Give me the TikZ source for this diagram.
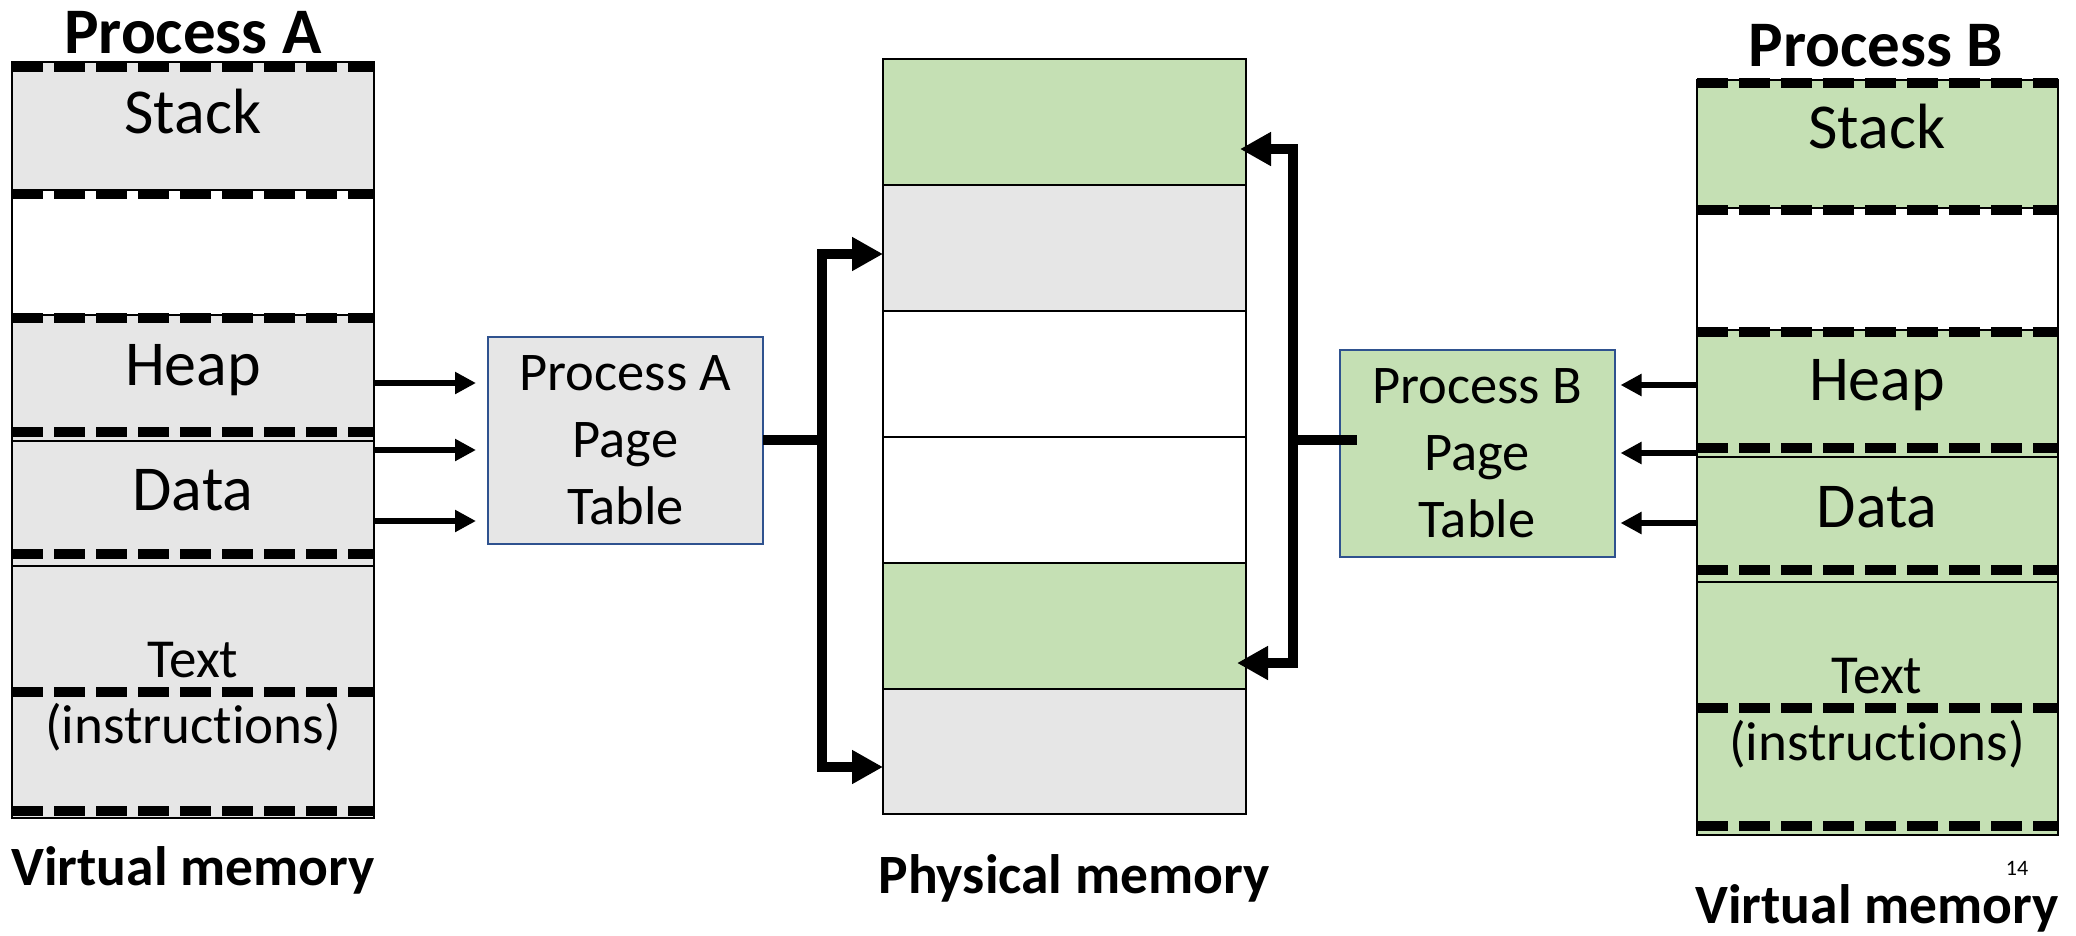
\documentclass[tikz,border=0pt]{standalone}
\usepackage{fontspec}
\setmainfont{Carlito}[Ligatures=NoCommon]
\usetikzlibrary{arrows.meta}
\definecolor{segGray}{RGB}{230,230,230}
\definecolor{segGreen}{RGB}{197,224,180}
\definecolor{tblBlue}{RGB}{47,82,143}
\newcommand\segfont{\fontsize{64}{70}\selectfont}
\newcommand\codefont{\fontsize{55}{66}\selectfont}
\newcommand\tblfont{\fontsize{54.5}{67}\selectfont}
\newcommand\titlefont{\bfseries\fontsize{65}{70}\selectfont}
\newcommand\capfont{\bfseries\fontsize{55.5}{66}\selectfont}
\tikzset{
  seg/.style={draw=black, line width=2pt, inner sep=0pt, outer sep=0pt},
  segtext/.style={anchor=base, inner sep=0pt, font=\segfont},
  codetext/.style={anchor=base, inner sep=0pt, font=\codefont},
  titletext/.style={anchor=base, inner sep=0pt, font=\titlefont},
  captext/.style={anchor=base, inner sep=0pt, font=\capfont},
  cut/.style={line width=10pt, dash pattern=on 31pt off 11pt, line cap=butt},
  ptable/.style={draw=tblBlue, line width=2pt, inner sep=0pt, outer sep=0pt,
    minimum width=275pt, minimum height=207pt, align=center, font=\tblfont},
  smallarr/.style={line width=6pt, -{Triangle[length=21pt,width=21pt]}},
  bigline/.style={line width=10pt},
  bigarr/.style={line width=10pt, -{Triangle[length=31pt,width=32pt]}},
}
\begin{document}
\begin{tikzpicture}[x=1pt,y=-1pt]
\useasboundingbox (0,0) rectangle (2076,935);

% ---------- virtual memory of process A ----------
\node[seg, fill=segGray, minimum width=362pt, minimum height=128pt] (stackA) at (193,126) {};
\node[seg, fill=white,   minimum width=362pt, minimum height=125pt] (freeA)  at (193,252.5) {};
\node[seg, fill=segGray, minimum width=362pt, minimum height=126pt] (heapA)  at (193,378) {};
\node[seg, fill=segGray, minimum width=362pt, minimum height=125pt] (dataA)  at (193,503.5) {};
\node[seg, fill=segGray, minimum width=362pt, minimum height=252pt] (textA)  at (193,692) {};
\foreach \yy in {67,194,318,432,554,692,811}
  \draw[cut] (12,\yy) -- (374,\yy);
\node[segtext] (lstackA) at (193,133) {Stack};
\node[segtext] (lheapA)  at (193,385) {Heap};
\node[segtext] (ldataA)  at (193,510) {Data};
\node[codetext] (ltextA) at (193,677) {Text};
\node[codetext] (linsA)  at (193,743) {(instructions)};
\node[titletext] (titleA) at (193,53) {Process A};
\node[captext] (vmA) at (193,885) {Virtual memory};

% ---------- physical memory ----------
\node[seg, fill=segGreen, minimum width=363pt, minimum height=126pt] (p1) at (1064.5,122) {};
\node[seg, fill=segGray,  minimum width=363pt, minimum height=126pt] (p2) at (1064.5,248) {};
\node[seg, fill=white,    minimum width=363pt, minimum height=126pt] (p3) at (1064.5,374) {};
\node[seg, fill=white,    minimum width=363pt, minimum height=126pt] (p4) at (1064.5,500) {};
\node[seg, fill=segGreen, minimum width=363pt, minimum height=126pt] (p5) at (1064.5,626) {};
\node[seg, fill=segGray,  minimum width=363pt, minimum height=125pt] (p6) at (1064.5,751.5) {};
\node[captext] (pm) at (1074,893) {Physical memory};

% ---------- virtual memory of process B ----------
\node[seg, fill=segGreen, minimum width=361pt, minimum height=128pt] (stackB) at (1877.5,144) {};
\node[seg, fill=white,    minimum width=361pt, minimum height=122pt] (freeB)  at (1877.5,269) {};
\node[seg, fill=segGreen, minimum width=361pt, minimum height=127pt] (heapB)  at (1877.5,393.5) {};
\node[seg, fill=segGreen, minimum width=361pt, minimum height=125pt] (dataB)  at (1877.5,519.5) {};
\node[seg, fill=segGreen, minimum width=361pt, minimum height=253pt] (textB)  at (1877.5,708.5) {};
\foreach \yy in {83,210,332,448,570,708,826}
  \draw[cut] (1697,\yy) -- (2058,\yy);
\node[segtext] (lstackB) at (1877,148) {Stack};
\node[segtext] (lheapB)  at (1877,400) {Heap};
\node[segtext] (ldataB)  at (1877,527) {Data};
\node[codetext] (ltextB) at (1877,693) {Text};
\node[codetext] (linsB)  at (1877,760) {(instructions)};
\node[titletext] (titleB) at (1876,66) {Process B};
\node[captext] (vmB) at (1877,923) {Virtual memory};
\node[anchor=base, inner sep=0pt, font=\fontsize{22}{24}\selectfont] (pgnum) at (2017,875) {14};

% ---------- page tables ----------
\node[ptable, fill=segGray]  (ptA) at (625.5,440.5) {Process A\\Page\\Table};
\node[ptable, fill=segGreen] (ptB) at (1477,453.5) {Process B\\Page\\Table};

% ---------- lookups into page table A ----------
\coordinate (a1) at (374,383);
\coordinate (a2) at (374,450);
\coordinate (a3) at (374,521);
\foreach \c in {a1,a2,a3}
  \draw[smallarr] (\c) -- ([xshift=-12pt]\c -| ptA.west);

% ---------- lookups into page table B ----------
\coordinate (b1) at (1697,385);
\coordinate (b2) at (1697,453);
\coordinate (b3) at (1697,523);
\foreach \c in {b1,b2,b3}
  \draw[smallarr] (\c) -- ([xshift=6pt]\c -| ptB.east);

% ---------- page table A to physical frames ----------
\coordinate (jA) at (822,440);
\draw[bigline] (ptA.east |- jA) -- (jA);
\draw[bigarr] (jA) |- ([yshift=-6pt]p2.west);
\draw[bigarr] (jA) |- ([yshift=-15.5pt]p6.west);

% ---------- page table B to physical frames ----------
\coordinate (jB) at (1293,440);
\draw[bigline] ([xshift=17pt]ptB.west |- jB) -- (jB);
\draw[bigarr] (jB) |- ([xshift=-6pt,yshift=-27pt]p1.east);
\draw[bigarr] (jB) |- ([xshift=-9pt,yshift=-37pt]p5.east);
\end{tikzpicture}
\end{document}
